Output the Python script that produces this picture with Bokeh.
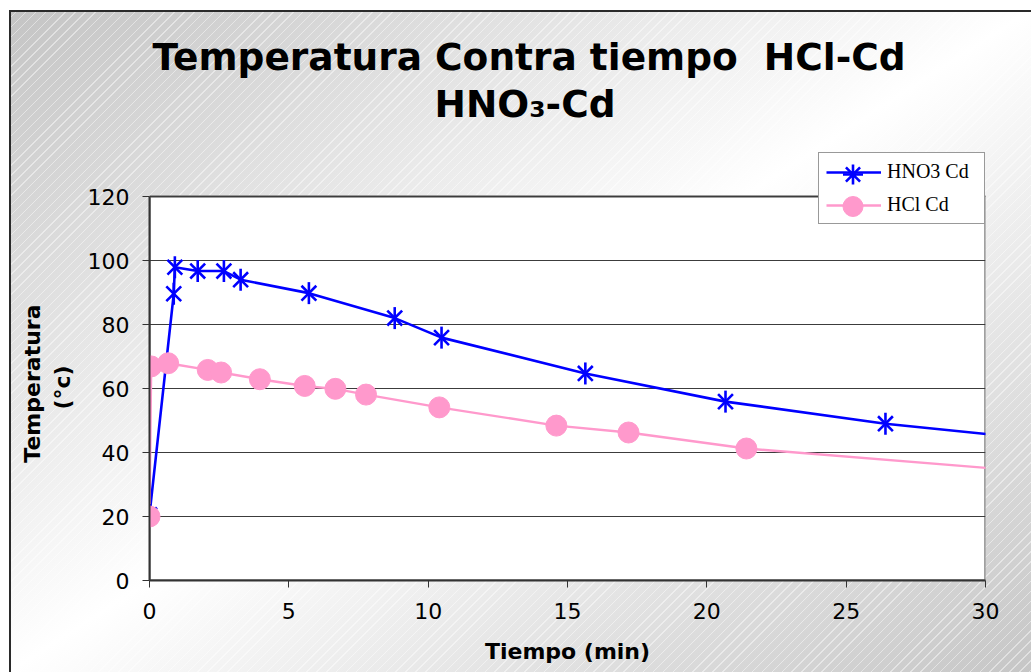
import math
from bokeh.plotting import figure
from bokeh.models import Label, Legend, LegendItem, SingleIntervalTicker, FixedTicker, Range1d
from bokeh.embed import file_html
from bokeh.resources import INLINE

# ---- data ----
hno3_time = [0, 0.87, 0.91, 1.73, 2.67, 3.27, 5.72, 8.8, 10.48, 15.64, 20.67, 26.41, 31]
hno3_temp = [20.5, 89.6, 97.9, 96.7, 96.7, 94, 89.8, 82, 75.9, 64.7, 55.9, 49, 44.9]
hcl_time = [0, 0.06, 0.67, 2.09, 2.57, 3.96, 5.57, 6.67, 7.77, 10.4, 14.6, 17.19, 21.42, 31]
hcl_temp = [20, 66.9, 67.9, 65.8, 65, 62.9, 60.8, 59.9, 58.1, 54.1, 48.4, 46.25, 41.25, 34.5]

series_names = ["HNO3 Cd", "HCl Cd"]
title_line1 = "Temperatura Contra tiempo \u00a0HCl-Cd"
title_line2 = "HNO\u2083-Cd"
x_title = "Tiempo (min)"
y_title_lines = ["Temperatura", "(\u00b0c)"]
x_min, x_max, x_step = 0, 30, 5
y_min, y_max, y_step = 0, 120, 20
y_ticks = list(range(y_min, y_max + 1, y_step))

BLUE = "#0000FF"
PINK = "#FF99CC"
SANS = "DejaVu Sans"
NBSP = "\u00a0"

W, H = 1022, 662
FRAME_H = 570                  # frame spans whole canvas height above the x axis
PLOT_AREA_H = 384              # pixel height of the 0..120 plot area
y_view_max = y_max * FRAME_H / PLOT_AREA_H

p = figure(width=W, height=H, output_backend="svg", toolbar_location=None,
           x_range=Range1d(x_min, x_max), y_range=Range1d(y_min, y_view_max),
           min_border_left=140, min_border_right=46, min_border_top=0, min_border_bottom=92,
           background_fill_alpha=0, border_fill_alpha=0,
           margin=(10, 0, 0, 9))
p.styles = {
    "background-color": "#ffffff",
    "background-image": ("repeating-linear-gradient(135deg, rgba(255,255,255,0) 0px, "
                         "rgba(255,255,255,0) 6px, rgba(255,255,255,0.45) 6px, "
                         "rgba(255,255,255,0.45) 7px), "
                         "linear-gradient(to bottom right, #c4c4c4 0%, #ffffff 50%, #c6c6c6 100%)"),
    "box-shadow": "inset 2px 2px 0 0 #2a2a2a",
}
p.outline_line_color = None

# white plot area with grey border (under the grid)
p.quad(left=[x_min], right=[x_max], bottom=[y_min], top=[y_max],
       fill_color="white", line_color="#808080", line_width=2.5, level="image")

p.xgrid.visible = False
p.ygrid.ticker = FixedTicker(ticks=y_ticks)
p.ygrid.grid_line_color = "#3c3c3c"
p.ygrid.grid_line_width = 1

for ax in (p.xaxis[0], p.yaxis[0]):
    ax.axis_line_color = "#333333"
    ax.axis_line_width = 2
    ax.major_tick_line_color = "#333333"
    ax.major_tick_line_width = 1
    ax.major_tick_out = 7
    ax.major_tick_in = 0
    ax.minor_tick_line_color = None
    ax.major_label_text_font = SANS
    ax.major_label_text_font_size = "22px"
    ax.major_label_text_color = "black"
    ax.axis_label_text_font = SANS
    ax.axis_label_text_font_style = "bold"
    ax.axis_label_text_font_size = "22px"
    ax.axis_label_text_color = "black"

p.xaxis.ticker = SingleIntervalTicker(interval=x_step)
p.yaxis.ticker = FixedTicker(ticks=y_ticks)
p.yaxis.bounds = (y_min, y_max)
p.xaxis.major_label_standoff = 15
p.yaxis.major_label_standoff = 13
p.xaxis.axis_label = x_title
p.xaxis.axis_label_standoff = 17
# the axis title is centred on the (taller) frame; trailing no-break spaces
# move the visible words down to the centre of the 0..120 plot area
p.yaxis.axis_label = (y_title_lines[0] + NBSP * 23) + "\n" + (y_title_lines[1] + NBSP * 24)
p.yaxis.axis_label_standoff = 10

# ---- series ----
blue_line = p.line(hno3_time, hno3_temp, line_color=BLUE, line_width=2.6)
pink_line = p.line(hcl_time, hcl_temp, line_color=PINK, line_width=2.4)
p.scatter(hno3_time, hno3_temp, marker="x", size=21, line_color=BLUE, line_width=2.6)
p.scatter(hno3_time, hno3_temp, marker="dash", size=22, angle=math.pi / 2,
          line_color=BLUE, line_width=2.6)
blue_leg = p.scatter(hno3_time, hno3_temp, marker="asterisk", size=0,
                     line_color=BLUE, line_width=2.6)
pink_pts = p.scatter(hcl_time, hcl_temp, marker="circle", size=21,
                     fill_color=PINK, line_color=PINK)

# ---- legend: box, lines and labels ----
leg1 = Legend(items=[LegendItem(label=series_names[0], renderers=[blue_line]),
                     LegendItem(label=series_names[1], renderers=[pink_line])],
              location=(669, 356), glyph_width=55, glyph_height=22, label_height=22,
              label_width=90, spacing=10, padding=7, label_standoff=6, margin=0,
              label_text_font="Liberation Serif", label_text_font_size="20px",
              label_text_color="black", border_line_color="#333333", border_line_width=1,
              background_fill_color="white", background_fill_alpha=1)
p.add_layout(leg1, "center")

# ---- legend: big markers only (one per row) ----
def marker_legend(renderer, loc):
    return Legend(items=[LegendItem(label=" ", renderers=[renderer])],
                  location=loc, glyph_width=55, glyph_height=50, label_height=50,
                  padding=0, label_standoff=0, margin=0, label_text_font_size="1px",
                  border_line_alpha=0, background_fill_alpha=0)

p.add_layout(marker_legend(blue_leg, (676, 381)), "center")
p.add_layout(marker_legend(pink_pts, (676, 349)), "center")

# ---- chart title (screen units, relative to the frame's bottom-left) ----
def lab(x, y, text, size):
    return Label(x=x, y=y, x_units="screen", y_units="screen", text=text,
                 text_font=SANS, text_font_size=size, text_font_style="bold",
                 text_color="black", text_align="center", text_baseline="alphabetic")

p.add_layout(lab(379.5, 524, title_line1, "37.5px"))
p.add_layout(lab(375.5, 477, title_line2, "37.5px"))

open("out.html", "w").write(file_html(p, INLINE))
